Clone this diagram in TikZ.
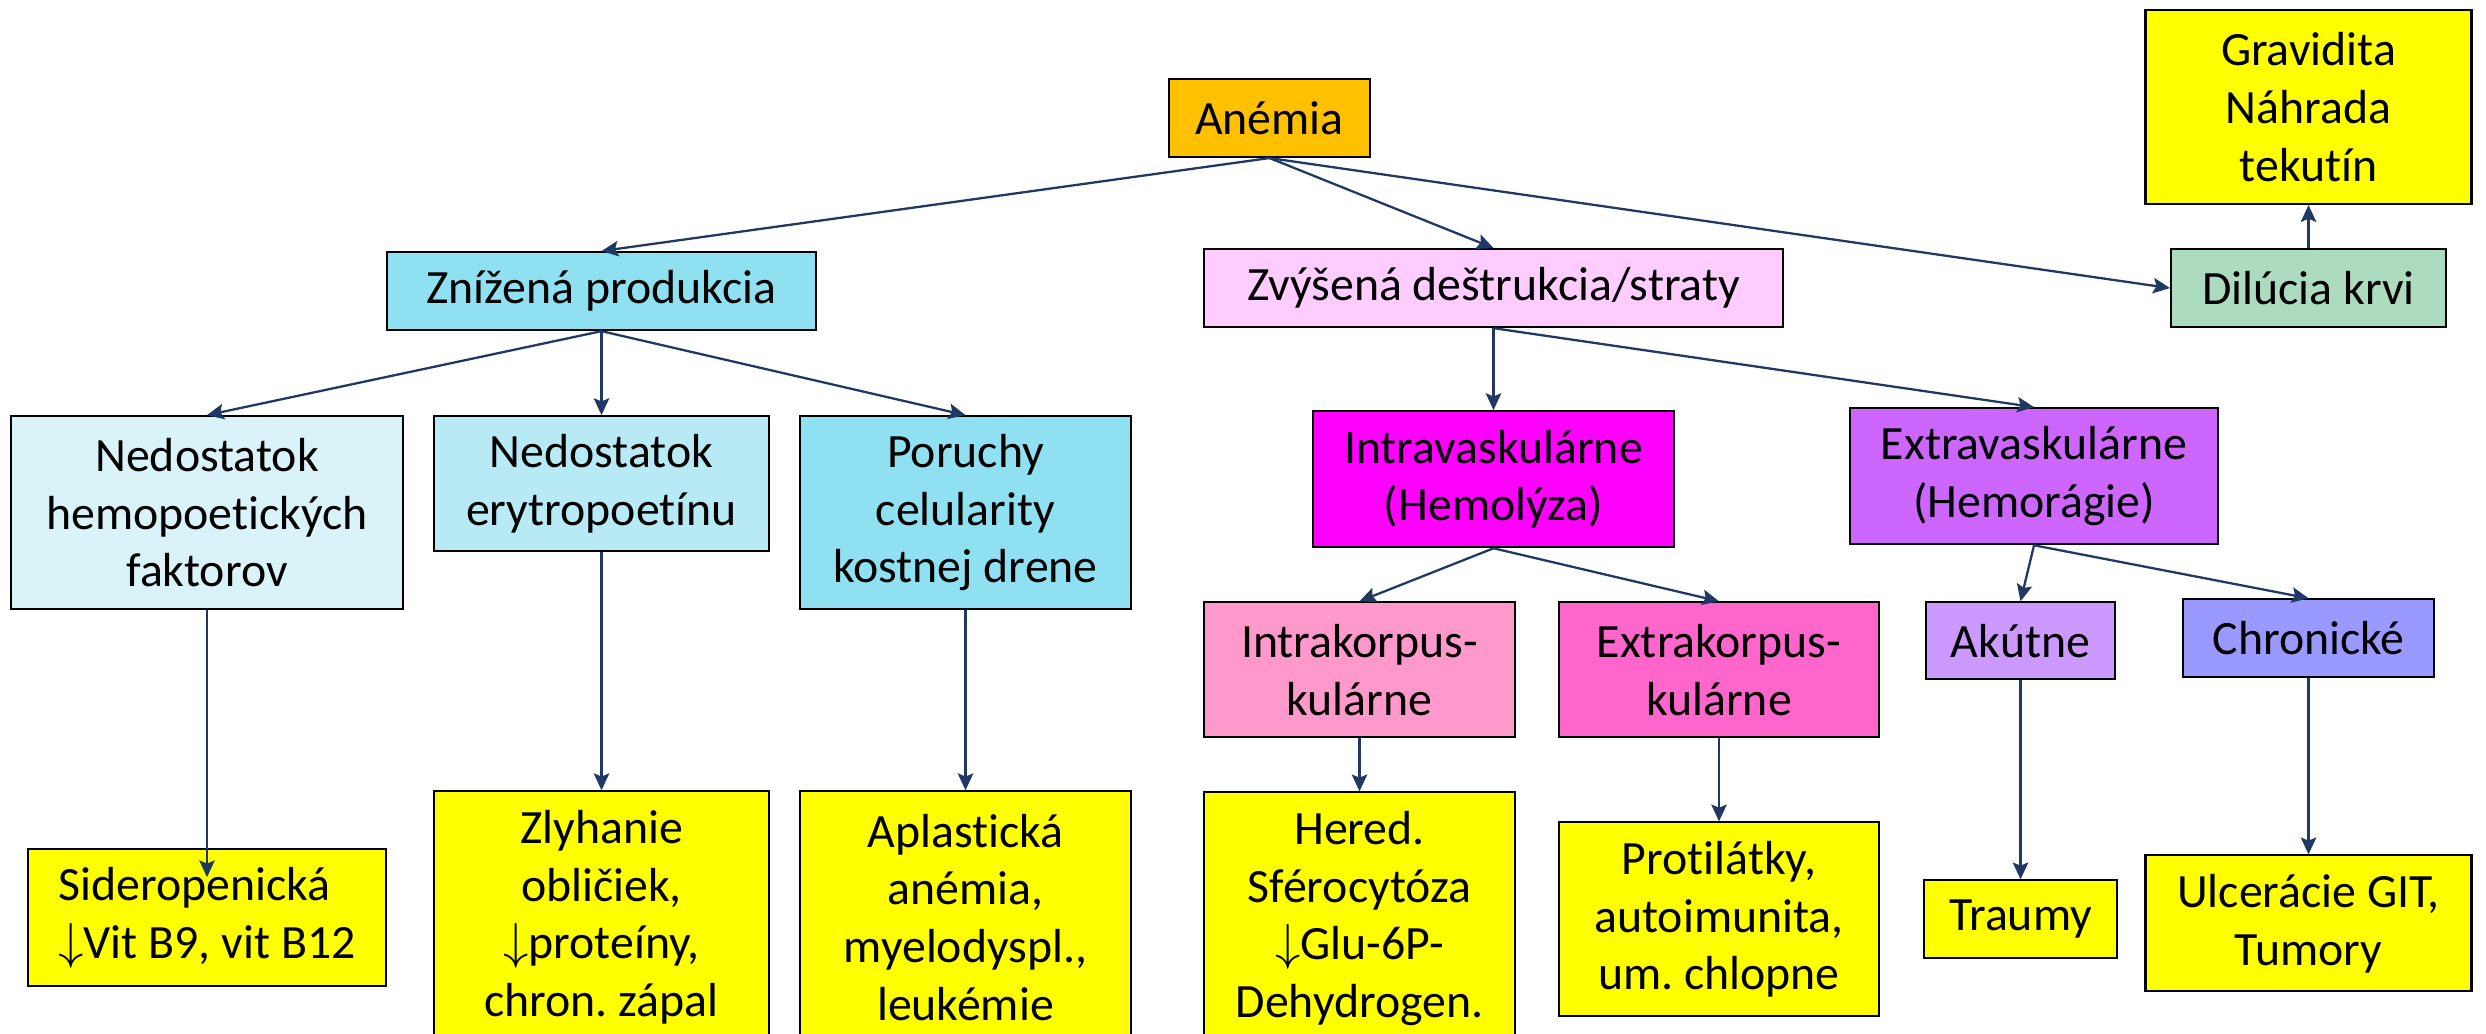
\documentclass[tikz,border=0pt]{standalone}
\usepackage{fontspec}
\setmainfont{Carlito}[Ligatures=NoCommon]
\usetikzlibrary{positioning,arrows.meta}
\frenchspacing

\definecolor{cGold}{HTML}{FFC000}
\definecolor{cCyan}{HTML}{8FE1F2}
\definecolor{cCyanPale}{HTML}{DAF3F8}
\definecolor{cCyanMid}{HTML}{B7EAF5}
\definecolor{cYellow}{HTML}{FFFF00}
\definecolor{cRose}{HTML}{FFCCFF}
\definecolor{cMint}{HTML}{ADDBBF}
\definecolor{cMagenta}{HTML}{FF00FF}
\definecolor{cViolet}{HTML}{CC66FF}
\definecolor{cPink}{HTML}{FF99CC}
\definecolor{cPinkDeep}{HTML}{FF66CC}
\definecolor{cLilac}{HTML}{CC99FF}
\definecolor{cPeri}{HTML}{9999FF}
\definecolor{cArrow}{HTML}{1F3864}

\begin{document}
\begin{tikzpicture}[node distance=0.9cm,
    every node/.style={font=\fontsize{13.6}{16.4}\selectfont, align=center, inner sep=0pt},
    box/.style={draw=black, line width=0.6pt},
    arr/.style={draw=cArrow, line width=0.65pt, -{Stealth[length=4.8pt,width=4.4pt,inset=0.9pt]}}]
    \useasboundingbox (0,0) rectangle (24.86,-10.34);
    % top level
    \node[box, fill=cGold, minimum width=2.01cm, minimum height=0.78cm] (anemia) at (12.695,-1.18) {Anémia};
    \node[box, fill=cCyan, minimum width=4.29cm, minimum height=0.78cm, below=0.93cm of anemia, xshift=-6.68cm] (znizena) {Znížená produkcia};
    \node[box, fill=cRose, minimum width=5.79cm, minimum height=0.78cm, below=0.90cm of anemia, xshift=2.24cm] (zvysena) {Zvýšená deštrukcia/straty};
    \node[box, fill=cMint, minimum width=2.75cm, minimum height=0.78cm, below=0.90cm of anemia, xshift=10.39cm] (dilucia) {Dilúcia krvi};
    \node[box, fill=cYellow, minimum width=3.26cm, minimum height=1.94cm, above=0.43cm of dilucia] (gravidita) {Gravidita\\Náhrada\\tekutín};
    % reduced production
    \node[box, fill=cCyanPale, minimum width=3.92cm, minimum height=1.93cm, below=0.84cm of znizena, xshift=-3.945cm] (hemo) {Nedostatok\\hemopoetických\\faktorov};
    \node[box, fill=cCyanMid, minimum width=3.35cm, minimum height=1.35cm, below=0.84cm of znizena] (erytro) {Nedostatok\\erytropoetínu};
    \node[box, fill=cCyan, minimum width=3.31cm, minimum height=1.93cm, below=0.84cm of znizena, xshift=3.64cm] (poruchy) {Poruchy\\celularity\\kostnej drene};
    \node[box, fill=cYellow, minimum width=3.58cm, minimum height=1.37cm, below=2.38cm of hemo, align=left] (sidero) {Sideropenická\\$\downarrow$Vit B9, vit B12};
    \node[box, fill=cYellow, minimum width=3.35cm, minimum height=2.52cm, below=2.38cm of erytro] (zlyhanie) {Zlyhanie\\obličiek,\\$\downarrow$proteíny,\\chron. zápal};
    \node[box, fill=cYellow, minimum width=3.31cm, minimum height=2.52cm, below=1.80cm of poruchy] (aplast) {Aplastická\\anémia,\\myelodyspl.,\\leukémie};
    % increased destruction / losses
    \node[box, fill=cMagenta, minimum width=3.61cm, minimum height=1.36cm, below=0.82cm of zvysena] (intravask) {Intravaskulárne\\(Hemolýza)};
    \node[box, fill=cViolet, minimum width=3.68cm, minimum height=1.36cm, below=0.79cm of zvysena, xshift=5.405cm] (extravask) {Extravaskulárne\\(Hemorágie)};
    \node[box, fill=cPink, minimum width=3.11cm, minimum height=1.35cm, below=0.53cm of intravask, xshift=-1.34cm] (intrakorp) {Intrakorpus-\\kulárne};
    \node[box, fill=cPinkDeep, minimum width=3.20cm, minimum height=1.35cm, below=0.53cm of intravask, xshift=2.255cm] (extrakorp) {Extrakorpus-\\kulárne};
    \node[box, fill=cYellow, minimum width=3.11cm, minimum height=2.52cm, below=0.53cm of intrakorp] (hered) {Hered.\\Sférocytóza\\$\downarrow$Glu-6P-\\Dehydrogen.};
    \node[box, fill=cYellow, minimum width=3.20cm, minimum height=1.94cm, below=0.83cm of extrakorp] (protil) {Protilátky,\\autoimunita,\\um. chlopne};
    \node[box, fill=cLilac, minimum width=1.89cm, minimum height=0.77cm, below=0.56cm of extravask, xshift=-0.135cm] (akutne) {Akútne};
    \node[box, fill=cPeri, minimum width=2.51cm, minimum height=0.78cm, below=0.53cm of extravask, xshift=2.745cm] (chronicke) {Chronické};
    \node[box, fill=cYellow, minimum width=1.93cm, minimum height=0.78cm, below=1.99cm of akutne] (traumy) {Traumy};
    \node[box, fill=cYellow, minimum width=3.26cm, minimum height=1.36cm, below=1.76cm of chronicke] (ulcer) {Ulcerácie GIT,\\Tumory};
    % connectors
    \draw[arr] (anemia.south) -- (znizena.north);
    \draw[arr] (anemia.south) -- (zvysena.north);
    \draw[arr] (anemia.south) -- (dilucia.west);
    \draw[arr] (dilucia.north) -- (gravidita.south);
    \draw[arr] (znizena.south) -- (hemo.north);
    \draw[arr] (znizena.south) -- (erytro.north);
    \draw[arr] (znizena.south) -- (poruchy.north);
    \draw[arr, shorten >=-0.29cm] (hemo.south) -- (sidero.north);
    \draw[arr] (erytro.south) -- (zlyhanie.north);
    \draw[arr] (poruchy.south) -- (aplast.north);
    \draw[arr] (zvysena.south) -- (intravask.north);
    \draw[arr] (zvysena.south) -- (extravask.north);
    \draw[arr] (intravask.south) -- (intrakorp.north);
    \draw[arr] (intravask.south) -- (extrakorp.north);
    \draw[arr] (intrakorp.south) -- (hered.north);
    \draw[arr] (extrakorp.south) -- (protil.north);
    \draw[arr] (extravask.south) -- (akutne.north);
    \draw[arr] (extravask.south) -- (chronicke.north);
    \draw[arr] (akutne.south) -- (traumy.north);
    \draw[arr] (chronicke.south) -- (ulcer.north);
\end{tikzpicture}
\end{document}
